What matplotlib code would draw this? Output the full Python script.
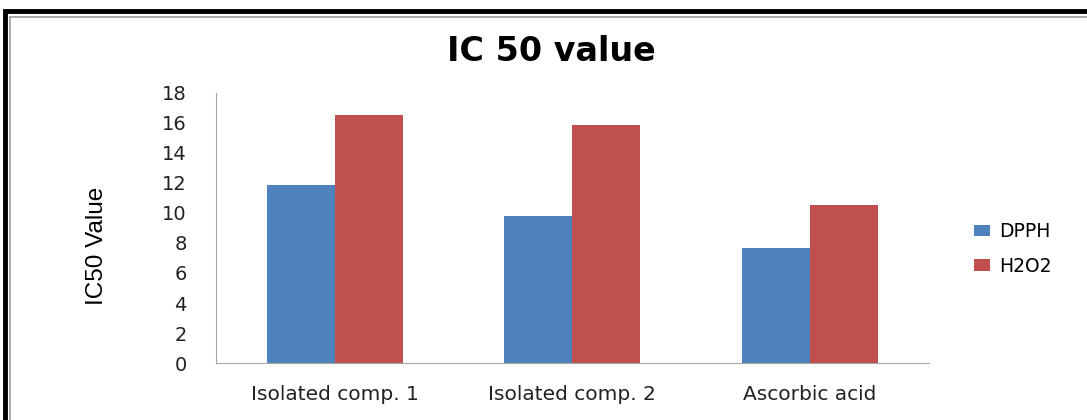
import matplotlib.pyplot as plt
from matplotlib.patches import Rectangle
import numpy as np

categories = ["Isolated comp. 1", "Isolated comp. 2", "Ascorbic acid"]
dpph = [11.85, 9.78, 7.64]
h2o2 = [16.53, 15.87, 10.56]
series_names = ["DPPH", "H2O2"]
yticks = [0, 2, 4, 6, 8, 10, 12, 14, 16, 18]

blue = "#4f81bd"
red = "#c0504d"

fig = plt.figure(figsize=(10.87, 4.2), dpi=100)

# outer frame (runs off the right/bottom edge like the scan)
fig.patches.append(Rectangle((0.0046, -0.05), 1.1, 1.024, transform=fig.transFigure,
                             fill=False, edgecolor="black", linewidth=3.5, zorder=0))
fig.patches.append(Rectangle((0.0095, -0.05), 1.1, 1.01, transform=fig.transFigure,
                             fill=False, edgecolor="#999999", linewidth=1.2, zorder=0))

ax = fig.add_axes([0.1987, 0.1357, 0.6556, 0.6429])

x = np.arange(len(categories))
w = 1 / 3.5
ax.bar(x - w / 2, dpph, w, color=blue, label=series_names[0])
ax.bar(x + w / 2, h2o2, w, color=red, label=series_names[1])

ax.set_xlim(-0.5, 2.5)
ax.set_ylim(0, 18)
ax.set_yticks(yticks)
ax.set_xticks(x)
ax.set_xticklabels(categories, fontsize=14.5, family="DejaVu Sans", color="#222222")
for lab in ax.get_yticklabels():
    lab.set_fontsize(14)
    lab.set_family("DejaVu Sans")
    lab.set_color("#222222")
ax.tick_params(axis="x", length=0, pad=16)
ax.tick_params(axis="y", length=0, pad=21)

for s in ["top", "right"]:
    ax.spines[s].set_visible(False)
ax.spines["left"].set_color("#a6a6a6")
ax.spines["bottom"].set_color("#a6a6a6")

ax.set_ylabel("IC50 Value", fontsize=17.5, family="Liberation Sans")
ax.yaxis.set_label_coords(-0.152, 0.433)

fig.text(0.507, 0.855, "IC 50 value", ha="center", va="baseline", fontsize=24,
         fontweight="bold", family="DejaVu Sans")

ax.legend(loc="center left", bbox_to_anchor=(1.04, 0.422), frameon=False,
          prop={"family": "DejaVu Sans", "size": 13.5}, handlelength=0.85, handleheight=0.6,
          labelspacing=0.85, handletextpad=0.5)

fig.savefig("out.png", dpi=100)
